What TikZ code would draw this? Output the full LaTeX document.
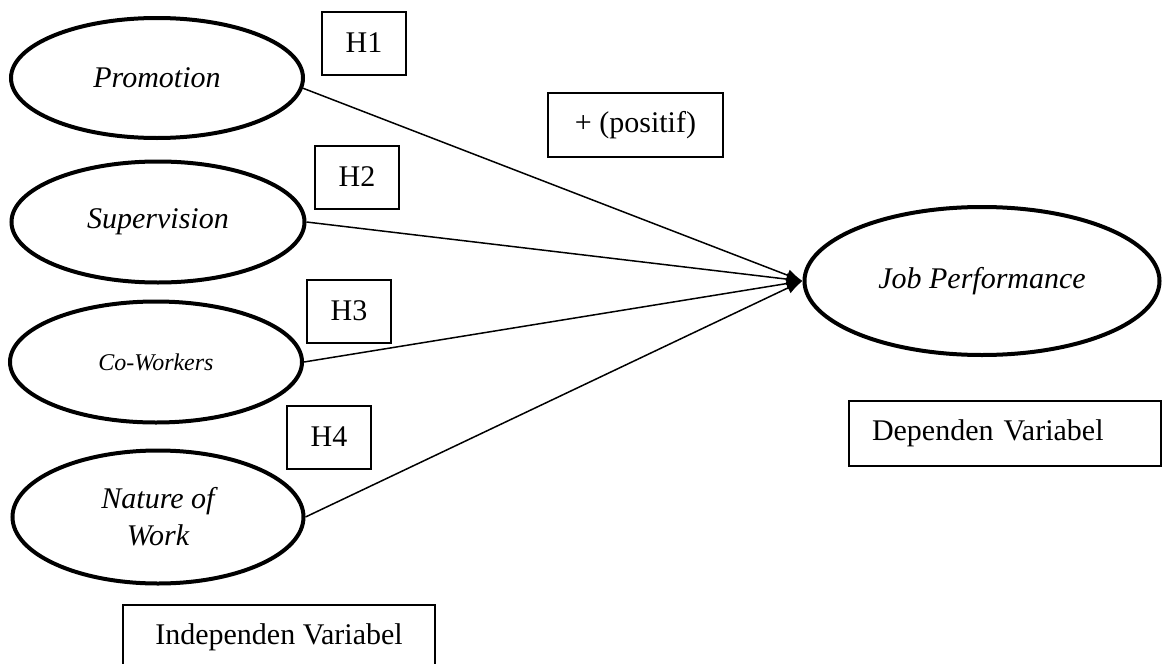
\documentclass[tikz,border=0pt]{standalone}
\usepackage{fontspec}
\setmainfont{Liberation Serif}
\usetikzlibrary{shapes.geometric,arrows.meta}
\tikzset{>={Latex[length=8pt,width=6pt]}}
\tikzset{
  latent/.style = {
    ellipse, draw, line width=2pt, inner sep=0pt,
    font=\fontsize{15}{18.5}\selectfont\itshape, align=center
  },
  hyp/.style = {
    draw, line width=1pt, inner sep=0pt,
    minimum width=42pt, minimum height=31.5pt,
    font=\fontsize{15}{18}\selectfont
  },
  tag/.style = {
    draw, line width=1pt, inner sep=0pt,
    minimum width=156pt, minimum height=32.5pt,
    font=\fontsize{15}{18}\selectfont
  },
  effect/.style = {->, line width=0.75pt}
}

\begin{document}
\begin{tikzpicture}[x=0.5pt,y=-0.5pt]
  \useasboundingbox (0,0) rectangle (1162,664);
  % variables
  \node[latent,minimum width=146pt,minimum height=60pt] (prom) at (157,78) {Promotion};
  \node[latent,minimum width=146.5pt,minimum height=60.5pt] (sup) at (158,222) {Supervision};
  \node[latent,minimum width=146pt,minimum height=60.5pt,
    font=\fontsize{12}{14}\selectfont\itshape] (cow) at (156,362) {Co-Workers};
  \node[latent,minimum width=145.5pt,minimum height=66.5pt] (now) at (158,517) {Nature of\\Work};
  \node[latent,minimum width=177.5pt,minimum height=74pt] (job) at (982,281) {Job Performance};
  % hypotheses
  \node[hyp] (h1) at (364,43) {H1};
  \node[hyp] (h2) at (357,177) {H2};
  \node[hyp] (h3) at (349,311) {H3};
  \node[hyp] (h4) at (329,437) {H4};
  \node[hyp,line width=1.4pt,minimum width=87.5pt,minimum height=32pt] (sign) at (635.5,125) {+ (positif)};
  % groups
  \node[tag,inner xsep=11.5pt,text width=133pt,align=left] (dep) at (1005,433) {Dependen Variabel};
  \node[tag] (indep) at (279,637) {Independen Variabel};
  % paths
  \draw[effect] (prom.-4) -- (job.west);
  \draw[effect] (sup.east) -- (job.west);
  \draw[effect] (cow.east) -- (job.west);
  \draw[effect] (now.east) -- (job.west);
\end{tikzpicture}
\end{document}
